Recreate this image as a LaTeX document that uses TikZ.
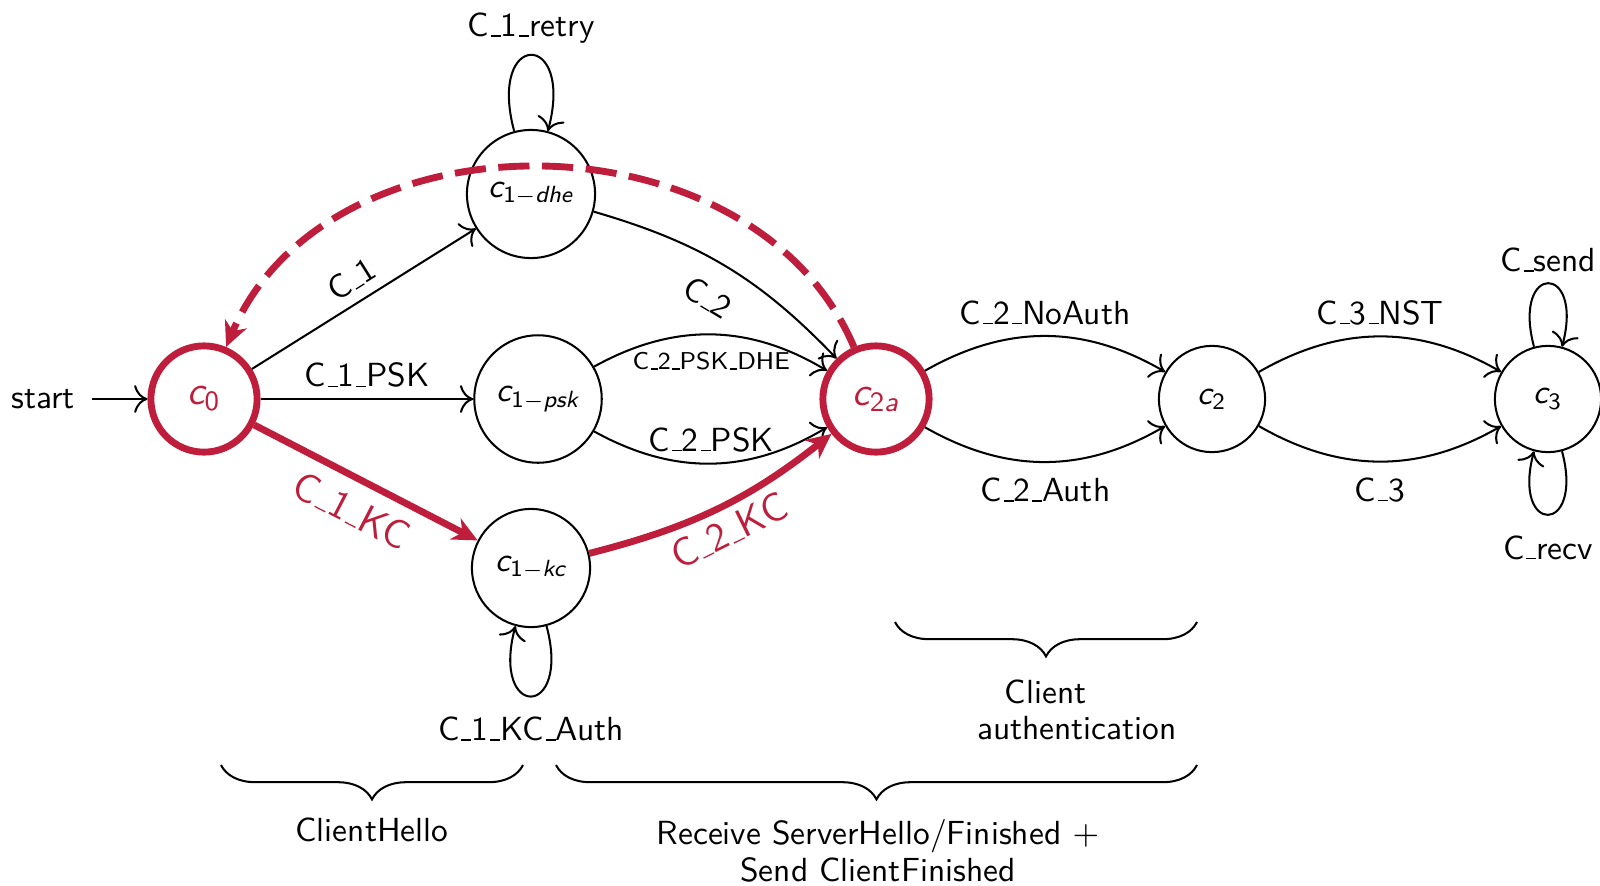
\documentclass[tikz,border=0pt]{standalone}
\usetikzlibrary{automata,arrows.meta,decorations.pathreplacing}
\definecolor{tured}{RGB}{190,30,60}
\newcommand{\usc}{\leavevmode\kern.06em\vbox{\hrule width.3em}}
\newcommand{\st}[2]{{\itshape #1}\textsubscript{#2}}
\newcommand{\basefont}{\fontsize{10.7pt}{11.7pt}\selectfont\sffamily}
\begin{document}
\begin{tikzpicture}[x=0.32pt,y=0.32pt,font=\basefont]
\tikzset{
  state/.style={circle,draw,line width=0.65pt,inner sep=0pt,minimum size=34pt},
  hotstate/.style={state,draw=tured,line width=2.2pt,text=tured,font=\fontsize{12.8pt}{14pt}\selectfont\sffamily},
  plain/.style={-{To[scale=1.4]},line width=0.65pt},
  hotedge/.style={draw=tured,line width=2.2pt,-{Stealth[length=8pt,width=7.5pt,inset=2.5pt]}},
  hotlbl/.style={text=tured,font=\fontsize{12.8pt}{14pt}\selectfont\sffamily},
  bracepath/.style={decorate,decoration={brace,mirror,amplitude=11pt},line width=0.65pt},
}
\useasboundingbox (0,0) rectangle (1600,-885);

\node (start) at (43,-399) {start};
\node[hotstate] (c0) at (204,-399) {\st{c}{0}};
\node[state,minimum size=41pt] (c1dhe) at (531,-194) {\st{c}{1$-$\itshape dhe}};
\node[state,minimum size=40.8pt] (c1psk) at (538,-399) {\st{c}{1$-$\itshape psk}};
\node[state,minimum size=37.8pt] (c1kc) at (531,-568) {\st{c}{1$-$\itshape kc}};
\node[hotstate] (c2a) at (876,-399) {\st{c}{2\itshape a}};
\node[state] (c2) at (1212,-399) {\st{c}{2}};
\node[state] (c3) at (1548,-399) {\st{c}{3}};

\draw[plain,shorten <=2pt] (start) -- (c0);
\draw[plain] (c0) -- node[sloped,above] {C\usc1} (c1dhe);
\draw[plain] (c0) -- node[above] {C\usc1\usc PSK} (c1psk);
\draw[hotedge] (c0) -- node[sloped,below=1pt,hotlbl] {C\usc1\usc KC} (c1kc);
\draw[plain] (c1dhe) to[bend left=15] node[sloped,below=4pt] {C\usc2} (c2a);
\draw[plain] (c1psk) to[bend left=30] node[below=2pt,font=\fontsize{7.8pt}{9pt}\selectfont\sffamily] {C\usc2\usc PSK\usc DHE} (c2a);
\draw[plain] (c1psk) to[bend right=30] node[above] {C\usc2\usc PSK} (c2a);
\draw[hotedge] (c1kc) to[bend right=12] node[sloped,below=-1pt,hotlbl] {C\usc2\usc KC} (c2a);
\draw[hotedge,dash pattern=on 10pt off 4pt] (c2a) to[out=113,in=67,looseness=1.06] (c0);
\draw[plain] (c2a) to[bend left=30] node[above] {C\usc2\usc NoAuth} (c2);
\draw[plain] (c2a) to[bend right=30] node[below=1.5pt] {C\usc2\usc Auth} (c2);
\draw[plain] (c2) to[bend left=30] node[above] {C\usc3\usc NST} (c3);
\draw[plain] (c2) to[bend right=30] node[below=1.5pt] {C\usc3} (c3);
\draw[plain] (c1dhe) to[loop above] node[above] {C\usc1\usc retry} (c1dhe);
\draw[plain] (c1kc) to[loop below] node[below=3pt] {C\usc1\usc KC\usc Auth} (c1kc);
\draw[plain] (c3) to[loop above] node[above] {C\usc send} (c3);
\draw[plain] (c3) to[loop below] node[below=3pt] {C\usc recv} (c3);

\coordinate (b1l) at (221,-765);
\coordinate (b1r) at (523,-765);
\coordinate (b2l) at (556,-765);
\coordinate (b2r) at (1197,-765);
\coordinate (b3l) at (895,-622);
\coordinate (b3r) at (1197,-622);
\draw[bracepath] (b1l) -- (b1r);
\draw[bracepath] (b2l) -- (b2r);
\draw[bracepath] (b3l) -- (b3r);
\node (tch) at (372,-830) {ClientHello};
\node[align=center] (trecv) at (878,-851) {Receive ServerHello/Finished $+$\\Send ClientFinished};
\node[align=center] (tauth) at (1077,-710) {Client\hspace*{20pt}\\authentication};
\end{tikzpicture}
\end{document}
